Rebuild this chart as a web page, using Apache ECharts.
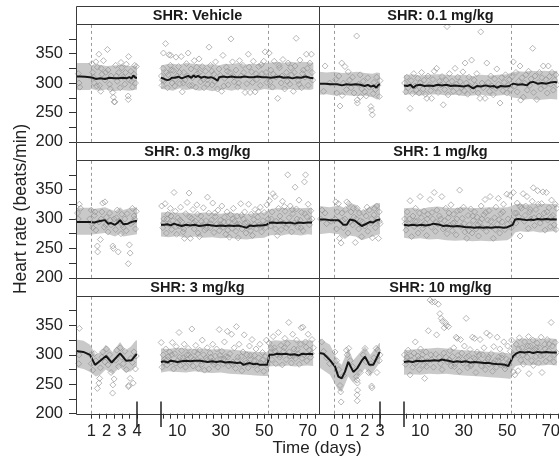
<!DOCTYPE html>
<html><head><meta charset="utf-8">
<script src="https://cdn.jsdelivr.net/npm/echarts@6/dist/echarts.min.js"></script>
<style>html,body{margin:0;padding:0;background:#fff}#c{width:559px;height:461px}</style>
</head><body><div id="c"></div>
<script>
// ---------- DATA ----------
const panelTitles = ['SHR: Vehicle','SHR: 0.1 mg/kg','SHR: 0.3 mg/kg','SHR: 1 mg/kg','SHR: 3 mg/kg','SHR: 10 mg/kg'];
const yTicks = [200,225,250,275,300,325,350,375];
const yLabels = [200,250,300,350];
const segATicksLeft = [1,1.5,2,2.5,3,3.5,4];
const segALabelsLeft = [1,2,3,4];
const segATicksRight = [0,0.5,1,1.5,2,2.5,3];
const segALabelsRight = [0,1,2,3];
const segBTicks = [3.33,6.67,10,13.33,16.67,20,23.33,26.67,30,33.33,36.67,40,43.33,46.67,50,53.33,56.67,60,63.33,66.67,70,73.33];
const segBLabels = [10,30,50,70];
const dashA = [1, 0];      // left column, right column
const dashB = 51.7;

// Panel 1: Vehicle
const p1MeanA = [[0,311],[0.3,311],[0.6,310.5],[0.9,310],[1.1,309],[1.3,307],[1.6,308],[1.9,307],[2.2,309],[2.5,308],[2.8,308],[3.1,309],[3.3,308],[3.5,310],[3.65,308],[3.76,313],[3.9,309],[4,309]];
const p1BandA = [[0,288,334],[0.9,288,334],[1.0,290,330],[1.5,287,331],[2,289,329],[2.5,286,330],[3,288,331],[3.5,287,329],[4,289,330]];
const p1PtsA = [[0.15,316],[0.2,300],[0.25,293],[1.05,333],[1.1,318],[1.2,300],[1.3,336],[1.4,327],[1.5,349],[1.55,296],[1.62,286],[1.7,315],[1.8,338],[1.9,305],[2.06,357],[2.1,322],[2.2,298],[2.3,312],[2.41,284],[2.45,276],[2.5,268],[2.55,268],[2.6,330],[2.7,303],[2.8,318],[2.9,292],[3.0,326],[3.1,310],[3.2,298],[3.3,332],[3.42,278],[3.43,272],[3.45,345],[3.5,305],[3.6,320],[3.7,293],[3.8,315],[3.9,300],[3.95,328]];
const p1PtsAx = [[1.15,310],[1.35,295],[1.65,325],[1.95,318],[2.25,290],[2.65,312],[2.95,335],[3.25,318],[3.65,303],[3.85,330]];
const p1MeanB = [[2.5,309],[3.5,308],[4.5,306],[5.5,305],[6.5,306],[7.5,309],[9,309],[10.5,311],[12,308],[13.5,310],[15,312],[16.5,309],[17.5,313],[18.5,310],[19.5,312],[21,309],[22.5,311],[24,309],[25.5,310],[27,308],[28.5,304],[29.3,310],[31,311],[33,310],[35,311],[37,310],[39,310],[41,311],[43,310],[45,310],[47,311],[49,310],[51,310],[53,309],[55,310],[57,311],[59,309],[61,310],[63,308],[65,310],[67,309],[69,311],[71,309],[72.6,308]];
const p1BandB = [[2.5,290,330],[5,289,332],[8,287,333],[11,291,331],[14,288,334],[17,290,333],[20,287,332],[23,289,331],[26,286,332],[29,288,330],[32,289,333],[35,287,332],[38,290,334],[41,288,331],[44,289,333],[47,287,332],[50,290,334],[53,288,335],[56,289,336],[59,288,334],[62,290,336],[65,288,335],[68,289,336],[71,288,335],[72.6,290,334]];
const p1PtsB = [[2.7,312],[3.0,296],[3.4,325],[3.6,351],[4.0,304],[4.6,367],[5.0,318],[5.5,292],[6.2,348],[6.8,330],[7.0,347],[7.6,300],[8.2,321],[8.8,295],[9.4,344],[10,312],[10.6,328],[11.2,299],[11.8,345],[12.3,285],[13,318],[13.6,305],[14.2,333],[15,351],[15.6,296],[16.3,324],[17,309],[17.8,338],[18.5,293],[19.2,316],[20,341],[20.7,302],[21.5,328],[22.3,292],[23,320],[23.8,306],[24.6,361],[25.3,330],[26,297],[26.8,315],[27.6,336],[28.5,290],[29.2,324],[30.4,286],[31,347],[31.8,308],[32.6,327],[33.4,297],[34.2,318],[34.7,375],[35.4,336],[36.2,302],[37,322],[37.8,293],[38.6,338],[39.4,312],[40.2,330],[41.2,284],[42,299],[42.7,349],[43.5,284],[44.2,319],[45,337],[45.8,285],[46.6,306],[47.4,328],[48.2,296],[49,316],[49.8,337],[50.4,353],[51.2,301],[52.3,351],[53,322],[53.8,293],[54.6,337],[55.4,310],[56.2,274],[57,326],[57.8,300],[58.6,340],[59.4,290],[60.2,318],[61,334],[61.8,298],[62.6,314],[63.4,286],[64.2,329],[64.7,376],[65.6,304],[66.4,339],[67.2,292],[68,322],[68.8,310],[69.4,349],[70.2,296],[71,334],[71.7,349],[72.3,305]];
const p1PtsBx = [[3.2,305],[5.8,314],[7.3,322],[9.1,306],[11,318],[12.8,300],[14.7,312],[16.8,296],[18.9,327],[20.3,318],[22,306],[24,298],[25.9,320],[27.3,303],[29.8,313],[31.4,295],[33,320],[35.9,311],[38.2,300],[40.6,318],[43,327],[44.6,301],[46.2,316],[48.6,331],[50.8,318],[52.7,302],[54.2,315],[56.8,330],[58.2,312],[60.6,303],[62.2,326],[63.8,318],[66,298],[67.6,316],[69.8,325],[72,318]];

// Panel 2: 0.1 mg/kg
const p2MeanA = [[-1,299],[-0.6,299],[-0.2,298],[0.2,298],[0.5,296],[0.8,298],[1.1,297],[1.4,298],[1.7,297],[2.0,295],[2.2,297],[2.4,294],[2.6,296],[2.75,292],[2.9,297],[3,298]];
const p2BandA = [[-1,280,319],[-0.5,281,318],[0,279,319],[0.5,280,317],[1,279,318],[1.5,278,319],[2,279,317],[2.5,276,316],[2.8,272,318],[3,274,317]];
const p2PtsA = [[-0.7,286],[-0.6,329],[-0.3,300],[0.1,306],[0.16,283],[0.3,312],[0.38,261],[0.49,334],[0.52,279],[0.6,300],[0.7,328],[0.8,289],[0.92,319],[1.0,305],[1.1,292],[1.2,310],[1.3,283],[1.47,380],[1.5,271],[1.52,266],[1.6,298],[1.7,314],[1.72,277],[1.8,290],[1.9,303],[2.0,285],[2.1,278],[2.2,309],[2.3,293],[2.4,260],[2.45,254],[2.5,246],[2.55,282],[2.6,301],[2.7,289],[2.78,310],[2.85,296],[2.95,277],[3.0,304]];
const p2PtsAx = [];
const p2MeanB = [[2.5,296],[4,295],[5.5,297],[6.8,292],[8,296],[9.9,297],[12,295],[14,296],[16,295],[18,297],[20,296],[22,297],[24,295],[26,296],[28,295],[30,294],[32,296],[34.4,291],[36,295],[38,294],[40,296],[42,294],[44,295],[45.2,292],[47,295],[49,294],[51,295],[52.8,299],[55,297],[57,298],[59,296],[60.5,301],[62,302],[64,299],[66,300],[68,299],[70,301],[72,302],[73,301]];
const p2BandB = [[2.5,280,313],[6,281,315],[10,279,313],[14,280,314],[18,281,315],[22,279,314],[26,280,313],[30,278,314],[34,279,312],[38,280,314],[42,278,313],[46,279,314],[50,280,315],[52,276,318],[55,274,320],[58,272,319],[61,273,321],[64,271,320],[67,272,321],[70,273,320],[73,272,321]];
const p2PtsB = [[2.8,300],[3.3,285],[3.8,310],[4.4,292],[5.3,257],[5.8,304],[6.4,282],[7,316],[7.6,295],[8.2,288],[8.8,308],[9.4,283],[10,300],[10.6,318],[11.2,290],[11.8,305],[12.4,281],[13,274],[13.6,312],[14.2,297],[14.8,287],[15.2,274],[15.8,306],[16.4,320],[17,292],[17.5,325],[18.2,284],[18.8,303],[19.4,297],[20,311],[20.6,263],[21.2,289],[21.8,305],[22.3,396],[22.8,280],[23.4,316],[24,294],[24.6,303],[25.2,286],[26,325],[26.6,298],[27.2,310],[27.8,284],[28.4,302],[29,292],[29.6,319],[30.2,287],[30.6,334],[31.2,300],[31.8,281],[32.4,310],[33,294],[33.6,339],[34.2,288],[34.8,305],[35.4,296],[36,316],[36.6,283],[37.5,274],[37.8,387],[38.4,300],[39,292],[39.8,274],[40.6,334],[41.2,301],[41.8,286],[42.4,312],[43,295],[43.6,280],[44.2,307],[44.8,291],[45.2,324],[46,298],[46.7,266],[47.4,309],[48,287],[48.6,301],[49.2,314],[49.8,283],[50.4,296],[51,306],[51.6,289],[52.2,311],[52.8,336],[53.4,295],[54,318],[54.6,285],[55.2,303],[55.9,329],[56.2,271],[56.8,309],[57.4,276],[58,300],[58.6,314],[59.2,288],[59.8,320],[60.4,296],[61,307],[61.7,359],[62.2,284],[62.8,312],[63.6,272],[64.2,301],[64.8,318],[65.4,290],[66,309],[66.6,329],[67.2,295],[67.8,306],[68.4,283],[68.9,329],[69.4,311],[70,298],[70.6,318],[71.2,288],[71.8,305],[72.4,314],[73,297]];
const p2PtsBx = [];

// Panel 3: 0.3 mg/kg
const p3MeanA = [[0,295],[0.5,295],[0.9,295],[1.2,294],[1.57,296.5],[1.9,298],[2.1,292],[2.3,293],[2.56,290],[2.75,294],[2.89,298],[3.1,291],[3.4,292],[3.65,295],[3.93,296.5],[4,296]];
const p3BandA = [[0,273,319],[0.9,273,319],[1.2,274,317],[1.9,276,320],[2.56,270,313],[2.89,275,320],[3.1,270,315],[3.5,272,318],[4,274,320]];
const p3PtsA = [[0.1,310],[0.15,300],[0.22,325],[0.3,318],[0.9,300],[1.0,315],[1.1,285],[1.2,306],[1.3,281],[1.4,254],[1.42,244],[1.5,295],[1.6,265],[1.7,312],[1.75,327],[1.85,286],[1.9,329],[2.0,303],[2.1,278],[2.2,310],[2.3,290],[2.41,254],[2.45,250],[2.5,300],[2.6,282],[2.7,315],[2.77,244],[2.85,296],[2.95,275],[3.0,308],[3.1,286],[3.2,300],[3.3,280],[3.43,224],[3.5,256],[3.55,242],[3.6,292],[3.7,318],[3.8,305],[3.9,283],[3.95,313]];
const p3PtsAx = [[1.05,292],[1.25,312],[1.65,300],[1.95,290],[2.25,298],[2.65,302],[3.05,290],[3.35,309],[3.75,295],[3.85,300]];
const p3MeanB = [[2.5,290],[4,290],[5.5,291],[7,289],[8.5,292],[10,290],[12,288],[14,290],[16,289],[18,290],[20,288],[22,289],[24,290],[26,289],[28,288],[30,289],[32,288],[34,289],[36,288],[38,289],[40,287],[41.9,285],[43.5,289],[45,288],[47,289],[49,289],[51,290],[52.3,293.5],[54,294],[56,293],[58,294],[60,293],[62,294],[64,292],[66,294],[68,293],[70,294],[72,294]];
const p3BandB = [[2.5,270,311],[6,269,312],[10,271,310],[14,268,311],[18,270,309],[22,268,311],[26,269,310],[30,267,309],[34,268,311],[38,266,309],[42,265,308],[46,267,310],[50,268,311],[52.3,272,316],[55,273,318],[58,272,319],[61,274,318],[64,273,319],[67,272,318],[70,274,319],[72,273,318]];
const p3PtsB = [[2.8,322],[3.3,285],[3.8,300],[4.4,326],[5,276],[5.6,308],[6.2,291],[6.8,318],[7.4,282],[8,297],[8.5,345],[9.1,313],[9.7,274],[10.3,302],[10.9,288],[11.5,320],[12.1,295],[12.7,278],[13.3,267],[13.9,309],[14.5,328],[15.1,290],[15.4,344],[16,267],[16.6,301],[17.2,316],[17.8,283],[18.4,296],[19,324],[19.6,276],[20.2,270],[20.8,305],[21.4,289],[22,319],[22.6,281],[23.2,297],[23.9,337],[24.5,310],[25.1,285],[25.7,298],[26.3,327],[26.9,277],[27.5,304],[28.1,291],[28.7,315],[29.3,280],[29.9,298],[30.5,322],[31.1,286],[31.7,303],[32.3,274],[32.9,312],[33.5,295],[34,269],[34.6,307],[35.2,284],[35.8,318],[36.4,296],[37,279],[37.6,305],[38,268],[38.6,291],[39.2,326],[39.8,283],[40.4,300],[41,312],[41.6,276],[42.2,294],[42.8,325],[43.4,287],[44,308],[44.6,272],[45.2,299],[45.8,316],[46.4,283],[47,303],[47.6,290],[48.2,320],[48.8,278],[49.4,297],[50,311],[50.6,285],[51.2,324],[51.8,300],[52.4,331],[53,288],[53.6,312],[54,343],[54.9,338],[55.5,296],[56,272],[56.6,318],[57.2,305],[57.8,282],[58.4,330],[59,293],[59.6,313],[60.2,285],[60.8,375],[61.4,302],[62,322],[62.6,278],[63.2,309],[63.8,293],[64.2,354],[64.8,317],[65.4,286],[66,332],[66.6,298],[67.2,311],[67.8,280],[68.5,363],[69,375],[69.6,304],[70.2,325],[70.8,290],[71.4,314],[72,300]];
const p3PtsBx = [[3.6,293],[5.3,300],[7.1,305],[9.4,287],[11.2,298],[13,283],[15.7,303],[17.5,293],[19.3,308],[21.1,296],[23.5,284],[25.4,292],[27.2,310],[29.6,289],[31.4,295],[33.2,281],[35.5,300],[37.3,291],[39.5,306],[41.3,293],[43.7,280],[45.5,291],[47.3,312],[49.1,288],[51.5,293],[53.3,300],[55.2,283],[57.5,296],[59.3,321],[61.1,290],[62.9,316],[65.1,300],[66.9,285],[68.7,309],[71.1,297]];

// Panel 4: 1 mg/kg
const p4MeanA = [[-1,299],[-0.6,299],[-0.28,298],[0.27,298],[0.45,294],[0.6,290],[0.82,290],[1.03,299],[1.36,297],[1.6,292],[1.8,288],[2.05,291],[2.34,295],[2.55,294],[2.78,298],[3,299]];
const p4BandA = [[-1,274,322],[-0.3,276,320],[0.3,274,323],[0.7,266,318],[1.0,272,327],[1.4,270,324],[1.8,264,313],[2.3,268,320],[2.7,272,326],[3,274,327]];
const p4PtsA = [[-0.8,315],[-0.5,292],[0.05,300],[0.1,329],[0.15,283],[0.27,326],[0.35,267],[0.45,259],[0.5,310],[0.6,285],[0.7,300],[0.82,329],[0.9,276],[0.95,326],[1.1,312],[1.2,290],[1.3,303],[1.38,260],[1.5,318],[1.6,283],[1.7,297],[1.8,270],[1.9,311],[2.0,288],[2.1,305],[2.2,279],[2.3,315],[2.4,293],[2.5,268],[2.6,307],[2.7,285],[2.78,322],[2.85,300],[2.9,267],[2.95,312],[3,292]];
const p4PtsAx = [[-0.9,300],[-0.6,310],[-0.2,296],[0.2,312],[0.55,298],[0.75,316],[1.05,295],[1.25,318],[1.45,300],[1.65,310],[1.85,295],[2.15,320],[2.45,300],[2.65,318],[2.95,296]];
const p4MeanB = [[2.5,290],[4.5,289],[6.5,290],[8.5,289],[10.5,290],[12.5,289],[14.5,290],[16,292],[17.5,291],[19,290],[20.6,288],[22,289],[23.5,288],[25.2,287],[27,288],[29,287],[31,286],[32.9,286],[35,285],[37,286],[39,285],[40.6,286],[42.5,285],[44.5,286],[46.5,286],[48.5,285],[50,286],[51.3,288],[52.5,290],[53.6,299],[55,300],[57,299],[59,298],[61,299],[62,298],[64,300],[66,299],[68,300],[70,299],[71.2,299.5],[72.8,299]];
const p4BandB = [[2.5,268,318],[6,266,319],[10,267,317],[14,265,320],[18,266,321],[22,264,319],[26,263,318],[30,264,320],[34,262,318],[38,263,319],[42,262,320],[46,263,319],[50,264,320],[52,268,322],[53.6,277,325],[56,279,326],[59,278,324],[62,279,326],[65,277,325],[68,278,326],[71,279,325],[72.8,278,326]];
const p4PtsB = [[2.8,300],[3.4,281],[4,312],[4.6,292],[5.3,331],[6,270],[6.6,305],[7.2,287],[7.8,318],[8.4,296],[9,276],[9.9,338],[10.5,302],[11.1,284],[11.7,313],[12.3,293],[12.9,272],[13.5,308],[14.5,333],[15.1,286],[15.7,300],[16.4,345],[17,279],[17.6,315],[18.2,291],[18.8,305],[19.9,338],[20.5,283],[21.1,297],[21.7,318],[22.3,275],[22.9,302],[23.5,289],[24.1,324],[24.7,280],[25.3,308],[25.9,294],[26.5,273],[27.1,314],[28.1,349],[28.7,287],[29.3,301],[29.9,320],[30.5,278],[31.4,267],[32,306],[32.6,290],[33.2,317],[33.8,276],[34.4,297],[35,312],[35.6,283],[36.2,303],[36.8,271],[37.4,294],[38,322],[38.6,285],[39.2,307],[39.8,333],[40.4,279],[41,298],[41.6,314],[42.1,338],[42.7,287],[43.6,267],[44.2,302],[44.8,320],[45.4,291],[45.9,335],[46.5,276],[47.1,309],[47.7,295],[48.3,325],[48.9,282],[49.8,342],[50.4,300],[51.3,340],[51.9,285],[52.8,345],[53.4,310],[54,293],[54.6,327],[55.2,304],[55.9,271],[56.5,318],[57.3,343],[57.9,296],[58.5,322],[59.1,338],[59.7,284],[60.3,312],[60.9,300],[61.5,330],[62,353],[62.6,289],[63.2,316],[64,348],[64.6,305],[65.2,293],[65.8,326],[66.4,346],[67,310],[67.4,281],[68,345],[68.6,298],[69.2,319],[69.8,287],[70.4,332],[71,306],[71.6,290],[72.4,282],[72.8,318]];
const p4PtsBx = [[3.1,292],[5,300],[7.5,296],[9.6,310],[11.4,290],[13.2,300],[15.4,311],[17.3,294],[19.4,300],[21.4,285],[23.2,310],[25,293],[26.8,300],[28.4,315],[30.2,292],[32.3,280],[34.1,305],[36.5,290],[38.3,300],[40.1,311],[42.4,296],[44.5,282],[46.2,299],[48,312],[50.1,291],[52.2,298],[54.3,310],[56,321],[58.2,306],[60.6,316],[62.3,302],[64.3,325],[66.1,300],[68.3,312],[70.1,303],[72.1,325]];

// Panel 5: 3 mg/kg
const p5MeanA = [[0,306.5],[0.48,305],[0.92,300],[1.25,283],[1.45,287],[1.57,287],[1.97,298],[2.34,287],[2.89,302.6],[3.28,290],[3.65,291],[3.93,300],[4,300]];
const p5BandA = [[0,279,326],[0.5,276,324],[0.92,271,317],[1.3,263,300],[1.6,266,305],[1.95,275,317],[2.4,267,305],[2.89,279,322],[3.25,270,308],[3.6,272,314],[3.9,280,324],[4,281,325]];
const p5PtsA = [[0.22,345],[0.2,300],[0.18,285],[0.95,300],[1.0,285],[1.1,274],[1.2,302],[1.3,290],[1.4,243],[1.5,252],[1.55,260],[1.6,278],[1.7,296],[1.75,305],[1.9,288],[2.0,310],[2.1,283],[2.2,300],[2.3,270],[2.4,235],[2.42,249],[2.5,259],[2.6,291],[2.67,308],[2.8,280],[2.9,312],[3.0,296],[3.1,285],[3.2,306],[3.3,275],[3.44,246],[3.46,248],[3.55,260],[3.6,294],[3.7,287],[3.75,252],[3.8,305],[3.9,276],[3.95,298]];
const p5PtsAx = [];
const p5MeanB = [[2.5,288],[4,289],[5.5,287],[7,290],[8.5,289],[10,288],[12,289],[14,290],[16,289],[18,290],[20.4,290],[22,289],[24,288],[26,289],[28,288],[30,289],[32,287],[34,288],[35.8,287],[37.5,286],[39,287],[40.5,283],[41.9,285],[43.5,286],[45,284],[46.5,285],[48,283],[49.6,283],[51.5,283],[52.3,300],[54,300],[56,302],[58,301],[60,302],[62,300],[64,301],[66,299],[67.5,302],[69,301],[71,302],[72.5,301]];
const p5BandB = [[2.5,270,311],[6,272,310],[10,271,312],[14,270,311],[18,272,310],[22,270,311],[26,269,309],[30,270,310],[34,268,309],[38,267,308],[42,266,306],[46,265,305],[50,264,305],[51.8,264,304],[52.3,280,323],[55,281,325],[58,280,324],[61,282,326],[64,280,325],[67,281,324],[70,282,325],[72.5,281,324]];
const p5PtsB = [[2.6,321],[3,279],[3.5,300],[4.1,292],[4.7,310],[5.3,283],[5.9,297],[6.5,305],[7.1,288],[7.7,321],[8.3,276],[8.9,302],[9.5,314],[10.1,290],[10.8,338],[11.4,282],[12,307],[12.6,295],[13.2,318],[13.8,279],[14.4,300],[15,311],[15.6,287],[16.2,296],[16.7,344],[17.3,281],[17.9,305],[18.5,316],[19.1,292],[19.7,277],[20.3,308],[20.9,289],[21.5,325],[22.1,300],[22.5,274],[23.2,295],[23.8,312],[24.5,276],[25.1,303],[25.7,289],[26.3,318],[26.9,284],[27.5,298],[28.1,310],[28.7,279],[29.3,343],[29.9,293],[30.5,306],[31.1,285],[31.7,322],[32.3,297],[33,340],[33.6,281],[34.2,302],[35,335],[35.6,288],[36.2,312],[36.8,277],[37.2,348],[37.8,296],[38.4,318],[39.1,284],[39.7,273],[40.2,305],[40.8,334],[41.4,290],[42,300],[42.6,278],[43.2,315],[43.8,292],[44.4,326],[45,283],[45.6,299],[46.2,310],[46.8,275],[47.4,295],[48,318],[48.6,286],[49.2,304],[49.8,272],[50.4,297],[51,325],[51.6,288],[52.3,320],[52.9,305],[53.5,292],[54.1,331],[54.7,312],[55.3,285],[55.9,300],[56.5,338],[57.1,296],[57.7,316],[58.3,283],[58.9,306],[59.5,328],[60.1,292],[60.7,319],[61.3,355],[61.9,298],[62.5,286],[63.1,335],[63.7,310],[64.3,294],[64.9,325],[65.5,302],[66.1,284],[66.7,318],[67,346],[67.8,347],[68.4,300],[69,322],[69.6,290],[70.2,335],[70.8,308],[71.4,296],[72,326],[72.6,312]];
const p5PtsBx = [[3.8,288],[5.6,292],[7.4,300],[9.2,286],[11.1,296],[13.5,290],[15.3,300],[17.6,292],[19.4,302],[21.2,284],[23.5,291],[25.4,296],[27.2,288],[29.6,299],[31.4,293],[33.3,296],[35.3,284],[37.5,290],[39.4,297],[41.7,286],[43.5,299],[45.3,290],[47.7,285],[49.5,292],[51.3,283],[53.2,311],[55,306],[57.4,300],[59.2,312],[61.6,305],[63.4,298],[65.2,309],[67.4,294],[69.3,313],[71.7,302]];

// Panel 6: 10 mg/kg
const p6MeanA = [[-1,303],[-0.7,302],[-0.28,291],[0.05,280],[0.27,263],[0.49,260],[0.7,271],[0.92,288],[1.25,271],[1.5,277],[1.8,290],[2.02,297],[2.3,283],[2.56,283],[2.96,304],[3,303]];
const p6BandA = [[-1,279,328],[-0.28,266,317],[0.27,240,288],[0.49,237,283],[0.92,263,311],[1.25,252,291],[2.02,277,314],[2.36,263,300],[2.96,286,320],[3,286,320]];
const p6PtsA = [[-0.82,322],[-0.7,306],[-0.5,295],[-0.3,285],[0.05,305],[0.15,290],[0.3,275],[0.38,248],[0.42,237],[0.45,220],[0.6,265],[0.8,308],[0.85,300],[0.95,311],[1.05,290],[1.2,280],[1.45,263],[1.5,257],[1.52,252],[1.53,240],[1.5,232],[1.51,222],[1.7,270],[1.9,300],[2.02,311],[2.1,288],[2.25,270],[2.4,285],[2.45,247],[2.47,244],[2.6,295],[2.75,311],[2.8,270],[2.85,308],[2.95,290],[3,300]];
const p6PtsAx = [];
const p6MeanB = [[2.5,288],[4.5,289],[6.5,288],[8.5,290],[10.5,289],[12.5,290],[14.5,290],[16.5,291],[18.5,290],[20,292],[21.4,291],[23,290],[25.2,288],[27,289],[29,288],[31,289],[33,287],[35,288],[37.5,287],[39.5,286],[41.5,286],[43.5,285],[45.2,284.5],[47,284],[49,283],[50.5,281],[51.3,279],[52.8,298],[54,302],[55.9,305],[58,304],[60,305],[62,303],[64,305],[66,304],[68,305],[70,304],[72.8,304]];
const p6BandB = [[2.5,266,308],[6,267,309],[10,266,310],[14,268,311],[18,267,312],[22,268,311],[26,266,309],[30,265,308],[34,264,307],[38,263,306],[42,262,305],[46,261,304],[50,260,303],[51.5,259,301],[52.5,275,318],[54,281,326],[57,283,328],[60,282,327],[63,283,328],[66,282,327],[69,283,328],[72.8,282,327]];
const p6PtsB = [[2.7,300],[3.2,284],[3.8,296],[4.4,308],[5.3,266],[5.9,291],[6.5,279],[7.1,303],[7.7,322],[8.3,287],[8.9,298],[9.5,275],[10.1,310],[10.7,293],[11.3,282],[12,260],[12.6,305],[13.2,289],[13.7,341],[14.5,393],[14.9,300],[15.5,390],[16.1,279],[16.7,390],[17.5,334],[18.3,386],[18.8,296],[19,370],[19.6,362],[20,275],[20.2,357],[20.8,303],[21,346],[21.5,355],[22,350],[22.5,288],[23,348],[23.6,307],[24.2,281],[24.8,297],[25.4,312],[26,285],[26.5,330],[27,328],[27.6,292],[28,272],[28.5,326],[29.1,303],[29.7,286],[30.3,315],[31.1,362],[31.7,278],[32.3,298],[32.9,309],[33.5,284],[34,330],[34.6,295],[35,328],[35.6,270],[36.2,305],[36.8,289],[37.5,326],[38.1,281],[38.7,300],[39.3,312],[39.9,275],[40.5,337],[41.1,293],[41.7,284],[42,333],[42.6,302],[43.2,272],[43.8,314],[44.4,290],[45,279],[45.4,330],[46,296],[46.6,310],[47.2,283],[47.8,300],[48.4,322],[49,276],[49.6,293],[50.2,315],[50.8,284],[51.4,306],[52,325],[52.8,271],[53.5,266],[54.1,318],[54.7,300],[55,273],[55.6,329],[56.2,291],[56.8,312],[57.4,284],[58,322],[58.6,305],[59.2,296],[59.8,331],[60,268],[60.6,315],[61.2,290],[61.8,325],[62,282],[62.6,309],[63.2,297],[63.8,320],[64.4,286],[65,312],[65.6,330],[66,270],[66.6,300],[67.2,318],[67.8,289],[68.4,326],[69,307],[69.6,294],[70.2,355],[70.8,315],[71.4,288],[72,321],[72.6,304]];
const p6PtsBx = [[3.5,290],[5.6,298],[7.4,285],[9.2,292],[11,300],[12.9,280],[15.2,292],[17.1,301],[19.3,285],[21.8,296],[23.3,291],[25.7,280],[27.3,299],[29.4,292],[31.4,296],[33.2,281],[35.3,293],[37.1,300],[39.6,287],[41.4,296],[43.5,286],[45.7,290],[47.5,295],[49.3,282],[51.1,290],[53.2,300],[55.3,310],[57.1,300],[59.5,315],[61.5,306],[63.5,312],[65.3,298],[67.5,310],[69.3,318],[71.7,300]];

// ---------- LAYOUT / STYLE ----------
const FONT = '"Liberation Sans", Arial, Helvetica, sans-serif';
const COL_LEFT = [76, 319];
const PANEL_W = 243;
const SEG_A_W = 61, SEG_B_OFF = 85, SEG_B_W = 158;
const STRIP_TOP = 6, ROW_STEP = 135.9, STRIP_H = 18.2, PLOT_H = 117.7;
const SEG_A_RANGE = [[0,4],[-1,3]];
const SEG_B_RANGE = [2.5, 75.2];
const BAND_COLOR = '#c9c9c9', PT_COLOR = '#8e8e8e', LINE_COLOR = '#151515', FRAME = '#3a3a3a';

const panels = [
  [p1MeanA,p1BandA,p1PtsA.concat(p1PtsAx),p1MeanB,p1BandB,p1PtsB.concat(p1PtsBx)],
  [p2MeanA,p2BandA,p2PtsA.concat(p2PtsAx),p2MeanB,p2BandB,p2PtsB.concat(p2PtsBx)],
  [p3MeanA,p3BandA,p3PtsA.concat(p3PtsAx),p3MeanB,p3BandB,p3PtsB.concat(p3PtsBx)],
  [p4MeanA,p4BandA,p4PtsA.concat(p4PtsAx),p4MeanB,p4BandB,p4PtsB.concat(p4PtsBx)],
  [p5MeanA,p5BandA,p5PtsA.concat(p5PtsAx),p5MeanB,p5BandB,p5PtsB.concat(p5PtsBx)],
  [p6MeanA,p6BandA,p6PtsA.concat(p6PtsAx),p6MeanB,p6BandB,p6PtsB.concat(p6PtsBx)]
];

const grid = [], xAxis = [], yAxis = [], series = [], graphic = [];

function bandSeries(gi, band) {
  return {
    type: 'custom', xAxisIndex: gi, yAxisIndex: gi, silent: true, z: 2,
    data: [[band[0][0], band[0][1]]],
    renderItem: function (params, api) {
      const top = band.map(b => api.coord([b[0], b[2]]));
      const bot = band.slice().reverse().map(b => api.coord([b[0], b[1]]));
      return { type: 'polygon', shape: { points: top.concat(bot) }, style: { fill: BAND_COLOR, stroke: null } };
    }
  };
}

panels.forEach((P, p) => {
  const c = p % 2, r = Math.floor(p / 2);
  const L = COL_LEFT[c];
  const stripTop = STRIP_TOP + r * ROW_STEP;
  const plotTop = stripTop + STRIP_H;
  const bottomRow = r === 2;
  [0, 1].forEach(s => {
    const gi = grid.length;
    grid.push({ left: s ? L + SEG_B_OFF : L, top: plotTop, width: s ? SEG_B_W : SEG_A_W, height: PLOT_H, containLabel: false, outerBoundsMode: 'none' });
    const range = s ? SEG_B_RANGE : SEG_A_RANGE[c];
    const ticks = s ? segBTicks : (c ? segATicksRight : segATicksLeft);
    const labels = s ? segBLabels : (c ? segALabelsRight : segALabelsLeft);
    xAxis.push({
      gridIndex: gi, type: 'value', min: range[0], max: range[1],
      axisLine: { show: false }, splitLine: { show: false },
      axisTick: { show: bottomRow, inside: false, length: 5, customValues: ticks, lineStyle: { color: '#333', width: 1 } },
      axisLabel: { show: bottomRow, customValues: labels, margin: 9, fontSize: 16.5, color: '#222', fontFamily: FONT, formatter: v => String(v) }
    });
    const showY = c === 0 && s === 0;
    yAxis.push({
      gridIndex: gi, type: 'value', min: 200, max: 400,
      axisLine: { show: false }, splitLine: { show: false },
      axisTick: { show: showY, inside: false, length: 7, customValues: yTicks, lineStyle: { color: '#333', width: 1 } },
      axisLabel: { show: showY, customValues: yLabels, margin: 13, fontSize: 16.5, color: '#222', fontFamily: FONT, padding: [5, 0, 0, 0] }
    });
    const mean = s ? P[3] : P[0], band = s ? P[4] : P[1], pts = s ? P[5] : P[2];
    series.push({
      type: 'line', xAxisIndex: gi, yAxisIndex: gi, z: 1, silent: true, showSymbol: false,
      data: [[mean[0][0], mean[0][1]]], lineStyle: { opacity: 0 },
      markLine: {
        symbol: 'none', silent: true, animation: false, label: { show: false },
        lineStyle: { type: [3, 3], color: '#9a9a9a', width: 1 },
        data: [{ xAxis: s ? dashB : dashA[c] }]
      }
    });
    series.push(bandSeries(gi, band));
    series.push({
      type: 'scatter', xAxisIndex: gi, yAxisIndex: gi, z: 3, silent: true,
      symbol: 'diamond', symbolSize: 6,
      itemStyle: { color: 'rgba(0,0,0,0)', borderColor: PT_COLOR, borderWidth: 0.8 },
      data: pts
    });
    series.push({
      type: 'line', xAxisIndex: gi, yAxisIndex: gi, z: 4, silent: true, showSymbol: false,
      lineStyle: { color: LINE_COLOR, width: 2 }, data: mean
    });
  });
  graphic.push({ type: 'rect', silent: true, z: 50, shape: { x: L + 0.5, y: Math.round(plotTop) + 0.5, width: PANEL_W, height: Math.round(PLOT_H) }, style: { fill: null, stroke: FRAME, lineWidth: 1 } });
  graphic.push({ type: 'rect', silent: true, z: 50, shape: { x: L + 0.5, y: Math.round(stripTop) + 0.5, width: PANEL_W, height: Math.round(plotTop) - Math.round(stripTop) }, style: { fill: '#fff', stroke: FRAME, lineWidth: 1 } });
  graphic.push({ type: 'text', silent: true, z: 51, x: L + PANEL_W / 2, y: stripTop + STRIP_H / 2 + 1, style: { text: panelTitles[p], fill: '#1a1a1a', font: 'bold 14.5px ' + FONT, textAlign: 'center', textVerticalAlign: 'middle' } });
  if (bottomRow) {
    [SEG_A_W, SEG_B_OFF].forEach(off => {
      graphic.push({ type: 'line', silent: true, z: 52, shape: { x1: L + off, y1: 401.5, x2: L + off, y2: 427 }, style: { stroke: '#222', lineWidth: 1.5 } });
    });
  }
});

graphic.push({ type: 'text', silent: true, z: 60, x: 317, y: 448, style: { text: 'Time (days)', fill: '#222', font: '17px ' + FONT, textAlign: 'center', textVerticalAlign: 'middle' } });
graphic.push({ type: 'text', silent: true, z: 60, x: 21, y: 209, rotation: Math.PI / 2, style: { text: 'Heart rate (beats/min)', fill: '#222', font: '17.5px ' + FONT, textAlign: 'center', textVerticalAlign: 'middle' } });

const chart = echarts.init(document.getElementById('c'), null, { renderer: 'canvas' });
chart.setOption({ animation: false, backgroundColor: '#fff', grid, xAxis, yAxis, series, graphic });
</script>
</body></html>
